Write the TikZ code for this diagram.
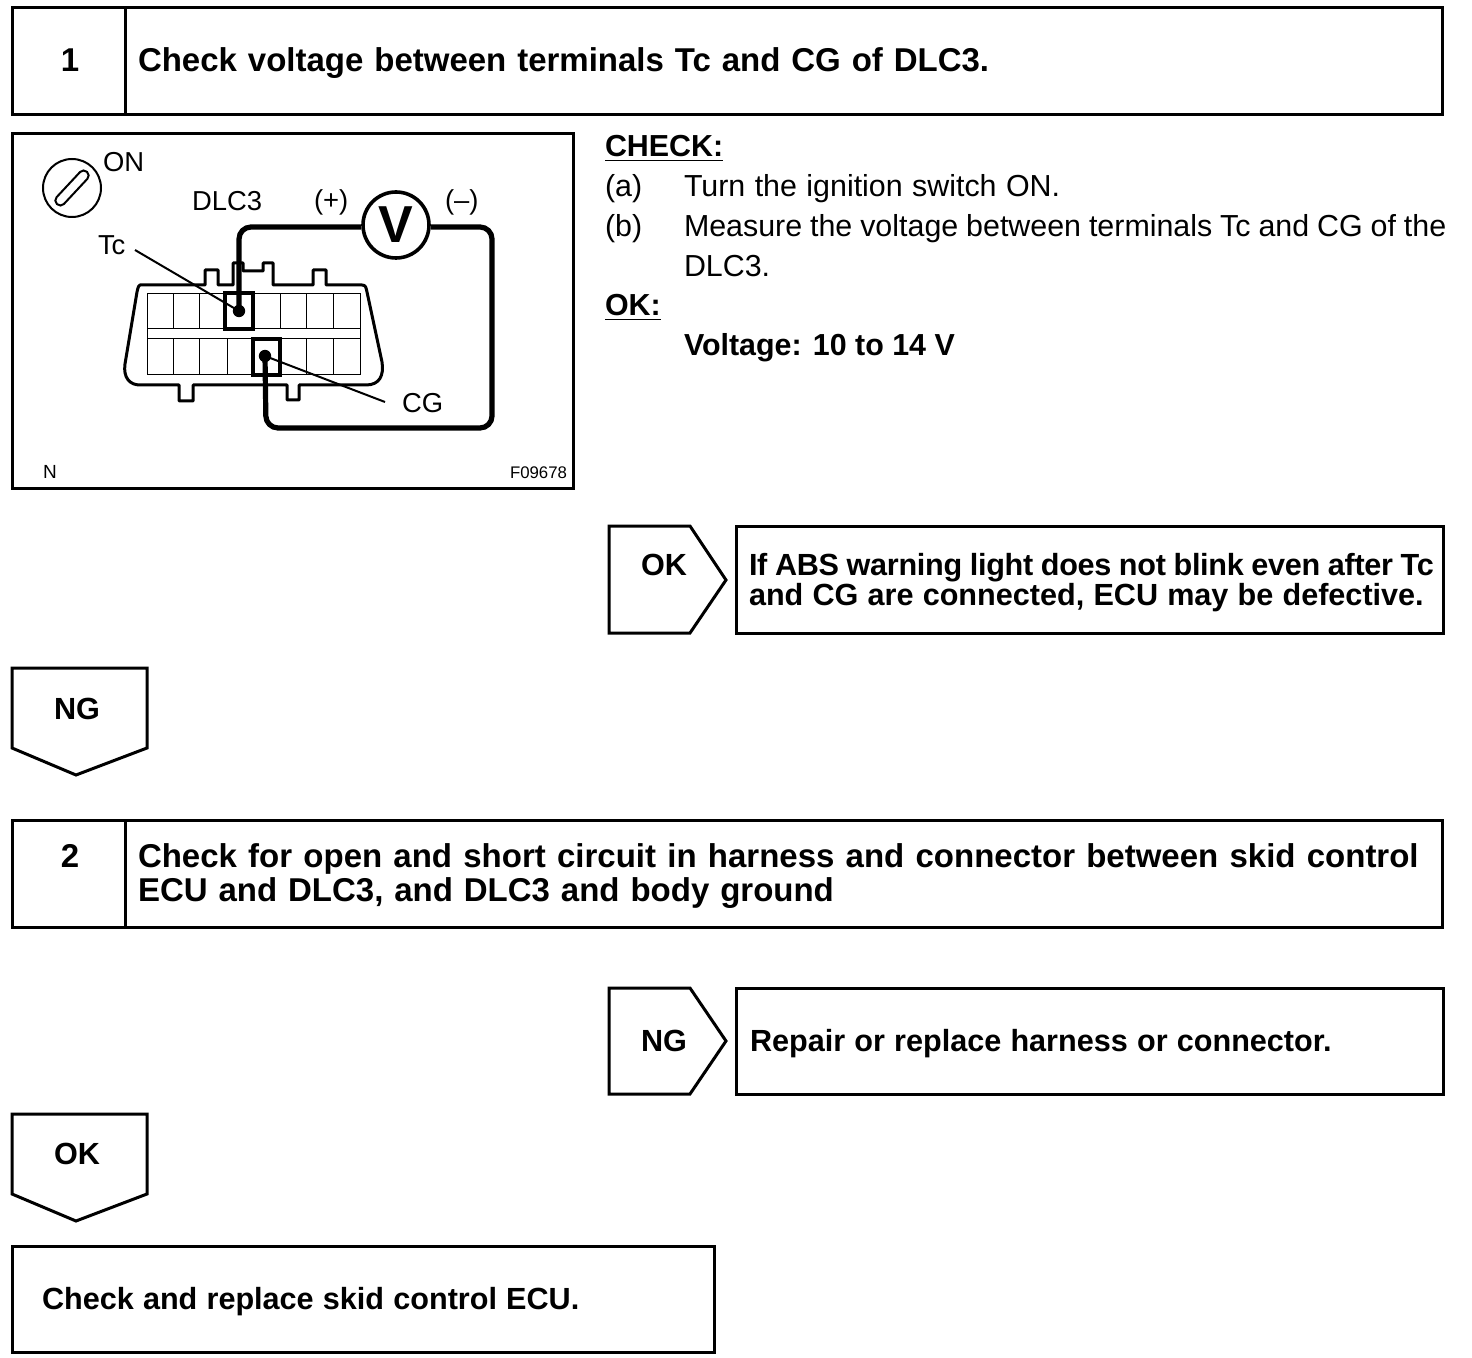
\documentclass[tikz,border=0pt]{standalone}
\usepackage{fontspec}
\setmainfont{Liberation Sans}
\newcommand{\bigbold}{\fontsize{16.5}{17}\selectfont\bfseries\spaceskip=0.33em\relax}
\newcommand{\midbold}{\fontsize{15.3}{16}\selectfont\bfseries\spaceskip=0.3em\relax}
\newcommand{\plaintxt}{\fontsize{15.2}{16}\selectfont}
\newcommand{\labtxt}{\fontsize{13.7}{14}\selectfont}
\newcommand{\smalltxt}{\fontsize{9.5}{10}\selectfont}
\newcommand{\codetxt}{\fontsize{8.4}{10}\selectfont}
\begin{document}
\begin{tikzpicture}[x=0.5pt,y=-0.5pt,
  frame/.style={draw=black,line width=1.5pt,fill=white,line join=miter},
  txt/.style={inner sep=0pt,outer sep=0pt,anchor=base west,align=left},
  ctr/.style={inner sep=0pt,outer sep=0pt,anchor=base},
  thin grid/.style={draw=black,line width=0.5pt},
  housing/.style={draw=black,line width=1.5pt,line join=round},
  wire/.style={draw=black,line width=2.6pt,rounded corners=6pt},
  leader/.style={draw=black,line width=1pt},
  term/.style={draw=black,line width=1.7pt},
  dot/.style={circle,fill=black,inner sep=0pt,minimum size=6.2pt}]
\useasboundingbox (0,0) rectangle (1472,1358);
% frames
\draw[frame] (12,8) rectangle (1442,115);
\draw[frame] (125,8) -- (125,115);
\draw[frame] (12,134) rectangle (573,488);
\draw[frame] (609,526) -- (690,526) -- (726,580) -- (690,633) -- (609,633) -- cycle;
\draw[frame] (736,526) rectangle (1443,633);
\draw[frame] (12,668) -- (147,668) -- (147,748) -- (76,775) -- (12,748) -- cycle;
\draw[frame] (12,820) rectangle (1442,927);
\draw[frame] (125,820) -- (125,927);
\draw[frame] (609,988) -- (690,988) -- (726,1041) -- (690,1094) -- (609,1094) -- cycle;
\draw[frame] (736,988) rectangle (1443,1094);
\draw[frame] (12,1114) -- (147,1114) -- (147,1194) -- (76,1221) -- (12,1194) -- cycle;
\draw[frame] (12,1246) rectangle (714,1352);
% header texts
\node[ctr] (n1) at (70,72) {\bigbold 1};
\node[txt] (t1) at (138,72) {\bigbold Check voltage between terminals Tc and CG of DLC3.};
\node[ctr] (n2) at (70,867) {\bigbold 2};
\node[txt] (t2a) at (138,867) {\bigbold\spaceskip=0.34em Check for open and short circuit in harness and connector between skid control};
\node[txt] (t2b) at (138,901) {\bigbold ECU and DLC3, and DLC3 and body ground};
\node[ctr] (ok1) at (664,575) {\midbold OK};
\node[txt] (m1a) at (749,575) {\midbold\addfontfeature{LetterSpace=-1}\spaceskip=0.25em If ABS warning light does not blink even after Tc};
\node[txt] (m1b) at (749,605) {\midbold and CG are connected, ECU may be defective.};
\node[ctr] (ng1) at (77,719) {\midbold NG};
\node[ctr] (ng2) at (664,1051) {\midbold NG};
\node[txt] (m2) at (750,1051) {\midbold Repair or replace harness or connector.};
\node[ctr] (ok2) at (77,1164) {\midbold OK};
\node[txt] (m3) at (42,1309) {\midbold Check and replace skid control ECU.};
% check text
\node[txt] (c0) at (605,157) {\plaintxt\bfseries\underline{CHECK:}};
\node[txt] (c1) at (605,197) {\plaintxt (a)};
\node[txt] (c2) at (684,197) {\plaintxt\spaceskip=0.31em Turn the ignition switch ON.};
\node[txt] (c3) at (605,237) {\plaintxt (b)};
\node[txt] (c4) at (684,237) {\plaintxt\spaceskip=0.26em Measure the voltage between terminals Tc and CG of the};
\node[txt] (c5) at (684,277) {\plaintxt DLC3.};
\node[txt] (c6) at (605,316) {\plaintxt\bfseries\underline{OK:}};
\node[txt] (c7) at (684,356) {\plaintxt\bfseries Voltage: 10 to 14 V};
% ignition symbol
\node[circle,draw=black,line width=1pt,minimum size=29pt,inner sep=0pt] (key) at (72,188) {};
\draw[draw=black,line width=1pt,rounded corners=2.4pt,rotate around={47:(72,188)}] (50,183) rectangle (94,193);
% connector
\draw[housing] (140,285) -- (205,285) -- (205,270) -- (218,270) -- (218,285) -- (233,285) -- (233,263) -- (243,263) -- (243,271) -- (263,271) -- (263,263) -- (273,263) -- (273,285) -- (313,285) -- (313,270) -- (326,270) -- (326,285) -- (362,285)
  .. controls (366,285) and (366,288) .. (367,292) -- (382,362) .. controls (384,375) and (380,385) .. (366,385)
  -- (299,385) -- (299,400) -- (287,400) -- (287,385) -- (193,385) -- (193,401) -- (179,401) -- (179,385) -- (140,385)
  .. controls (130,385) and (123,378) .. (125,364) -- (137,292) .. controls (138,287) and (139,285) .. (140,285) -- cycle;
\draw[thin grid] (147,294) rectangle (360,375);
\draw[thin grid] (147,329) -- (360,329);
\draw[thin grid] (147,339) -- (360,339);
\foreach \x in {173,199,253,280,306,333} \draw[thin grid] (\x,294) -- (\x,329);
\foreach \x in {173,199,227,280,306,333} \draw[thin grid] (\x,339) -- (\x,375);
\draw[term] (225,293) rectangle (253,329);
\draw[term] (253,339) rectangle (280,375);
% meter and wires
\node[circle,draw=black,line width=1.8pt,fill=white,minimum size=33pt,inner sep=0pt] (vm) at (396,225) {\fontsize{26}{26}\selectfont\bfseries V};
\node[dot] (tcdot) at (239,311) {};
\node[dot] (cgdot) at (265,356) {};
\coordinate (wa) at (239,227);
\coordinate (wb) at (492,227);
\coordinate (wc) at (492,428);
\coordinate (wd) at (266,428);
\draw[wire] (tcdot.center) -- (wa) -- (vm.west |- wa);
\draw[wire] (vm.east |- wb) -- (wb) -- (wc) -- (wd) -- (cgdot.center);
% leaders
\node[txt] (ltc) at (98,255) {\labtxt Tc};
\node[txt] (lcg) at (402,413) {\labtxt CG};
\coordinate (tcl) at (135,250);
\coordinate (cgl) at (385,402);
\draw[leader] (tcl) -- (tcdot.center);
\draw[leader] (cgl) -- (cgdot.center);
\node[txt] (lon) at (103,172) {\labtxt ON};
\node[txt] (ldlc) at (192,211) {\labtxt DLC3};
\node[txt] (lp) at (314,210) {\labtxt (+)};
\node[txt] (lm) at (445,210) {\labtxt (--)};
\node[txt] (ln) at (43,478) {\smalltxt N};
\node[txt] (lf) at (510,479) {\codetxt F09678};
\end{tikzpicture}
\end{document}
